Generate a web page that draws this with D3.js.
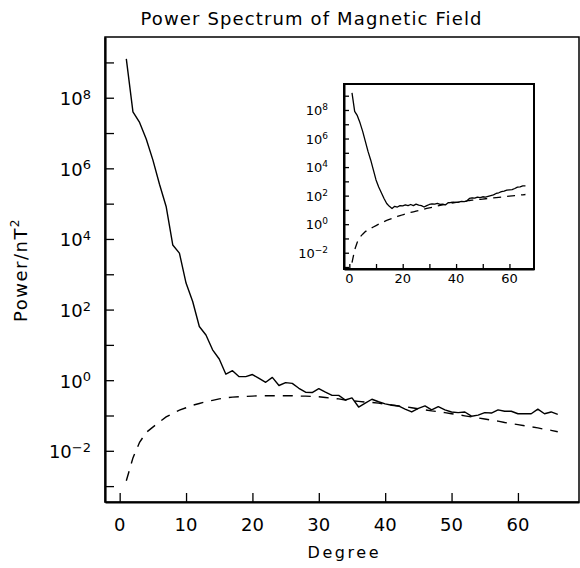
<!DOCTYPE html>
<html>
<head>
<meta charset="utf-8">
<script src="https://cdn.jsdelivr.net/npm/d3@7"></script>
<style>
  body { margin: 0; background: #fff; }
  svg text { font-family: "DejaVu Sans", sans-serif; fill: #000; }
</style>
</head>
<body>
<div id="canvas"></div>
<script>
// spherical harmonic degree n = 1..66
const degrees = d3.range(1, 67);

// main panel, log10(power / nT^2)
const mainObserved = [9.1, 7.6, 7.3, 6.83, 6.24, 5.55, 4.92, 3.83, 3.6, 2.75,
  2.23, 1.52, 1.28, 0.86, 0.6, 0.17, 0.27, 0.1, 0.1, 0.16,
  0.05, -0.06, 0.08, -0.15, -0.07, -0.09, -0.23, -0.34, -0.35, -0.24,
  -0.34, -0.43, -0.43, -0.56, -0.5, -0.76, -0.65, -0.54, -0.61, -0.67,
  -0.71, -0.73, -0.82, -0.9, -0.8, -0.73, -0.84, -0.75, -0.84, -0.9,
  -0.92, -0.9, -1.02, -0.99, -0.92, -0.93, -0.84, -0.88, -0.88, -0.95,
  -0.95, -0.95, -0.82, -0.95, -0.9, -0.97];
const mainModel = [-2.85, -2.2, -1.76, -1.48, -1.33, -1.18, -1.04, -0.94, -0.85, -0.78,
  -0.71, -0.66, -0.61, -0.57, -0.53, -0.5, -0.48, -0.47, -0.46, -0.45,
  -0.44, -0.44, -0.44, -0.44, -0.44, -0.44, -0.45, -0.45, -0.46, -0.47,
  -0.49, -0.51, -0.53, -0.56, -0.58, -0.6, -0.62, -0.63, -0.65, -0.68,
  -0.7, -0.73, -0.75, -0.78, -0.81, -0.84, -0.87, -0.89, -0.92, -0.95,
  -0.98, -1.01, -1.04, -1.07, -1.1, -1.13, -1.16, -1.2, -1.23, -1.26,
  -1.29, -1.32, -1.35, -1.39, -1.42, -1.46];

// inset panel, log10(power / nT^2)
const insetObserved = [9.2, 7.9, 7.6, 7.1, 6.5, 5.8, 5.1, 4.5, 3.8, 3.1,
  2.6, 2.2, 1.8, 1.45, 1.25, 1.1, 1.25, 1.2, 1.3, 1.28,
  1.35, 1.3, 1.38, 1.3, 1.4, 1.33, 1.3, 1.2, 1.3, 1.38,
  1.42, 1.4, 1.45, 1.38, 1.4, 1.35, 1.5, 1.52, 1.55, 1.52,
  1.55, 1.6, 1.58, 1.62, 1.8, 1.85, 1.82, 1.9, 1.86, 1.92,
  1.9, 1.95, 2.0, 2.05, 2.15, 2.2, 2.28, 2.32, 2.38, 2.4,
  2.42, 2.5, 2.6, 2.62, 2.68, 2.68];
const insetModel = [-2.7, -1.8, -1.25, -0.9, -0.7, -0.52, -0.4, -0.3, -0.2, -0.1,
  0.0, 0.1, 0.18, 0.26, 0.33, 0.4, 0.47, 0.54, 0.6, 0.66,
  0.71, 0.76, 0.82, 0.87, 0.92, 0.96, 1.01, 1.05, 1.1, 1.14,
  1.18, 1.23, 1.27, 1.31, 1.35, 1.38, 1.42, 1.46, 1.49, 1.52,
  1.55, 1.58, 1.61, 1.63, 1.66, 1.68, 1.7, 1.72, 1.74, 1.76,
  1.78, 1.8, 1.82, 1.84, 1.86, 1.88, 1.9, 1.92, 1.94, 1.96,
  1.98, 2.0, 2.02, 2.04, 2.06, 2.08];

// ticks
const xTicks = [0, 10, 20, 30, 40, 50, 60];
const xTicksInset = [0, 10, 20, 30, 40, 50, 60];
const xLabelsInset = [0, 20, 40, 60];
const yTickExp = [-3, -2, -1, 0, 1, 2, 3, 4, 5, 6, 7, 8, 9];
const yLabelExp = [-2, 0, 2, 4, 6, 8];

const w = 580, h = 568;
const svg = d3.select("#canvas").append("svg")
  .attr("width", w).attr("height", h);

function supText(g, exp, xPos, yPos, size, supSize, dy) {
  const t = g.append("text")
    .attr("x", xPos).attr("y", yPos)
    .attr("text-anchor", "end")
    .style("font-size", size + "px");
  t.append("tspan").text("10");
  t.append("tspan").attr("dy", dy).style("font-size", supSize + "px")
    .text(exp < 0 ? "\u2212" + (-exp) : exp);
}

function panel(opts) {
  const { box, xDom, yDom, observed, model } = opts;
  const x = d3.scaleLinear().domain(xDom).range([box.left, box.right]);
  const y = d3.scaleLog().domain(yDom.map(e => Math.pow(10, e))).range([box.bottom, box.top]);
  const g = svg.append("g");

  // frame
  g.append("rect")
    .attr("x", box.left).attr("y", box.top)
    .attr("width", box.right - box.left).attr("height", box.bottom - box.top)
    .attr("fill", "none").attr("stroke", "#000").attr("stroke-width", opts.frameW);

  const yAxis = g.append("g")
    .attr("transform", `translate(${box.left},0)`)
    .call(d3.axisLeft(y)
      .tickValues(yTickExp.map(e => Math.pow(10, e)))
      .tickSizeInner(-opts.tick).tickSizeOuter(0).tickFormat(""));
  yAxis.select(".domain").attr("stroke-width", opts.axisW);
  yAxis.selectAll(".tick line").attr("stroke-width", 1.3);

  const xAxis = g.append("g")
    .attr("transform", `translate(0,${box.bottom})`)
    .call(d3.axisBottom(x)
      .tickValues(opts.xTicks)
      .tickSizeInner(-opts.tick).tickSizeOuter(0).tickFormat(""));
  xAxis.select(".domain").attr("stroke-width", opts.axisW);
  xAxis.selectAll(".tick line").attr("stroke-width", 1.3);

  yLabelExp.forEach(e => {
    supText(g, e, opts.yLabelX, y(Math.pow(10, e)) + opts.yLabelDy,
      opts.font, opts.supFont, opts.supDy);
  });
  opts.xLabels.forEach(v => {
    g.append("text")
      .attr("x", x(v)).attr("y", opts.xLabelY)
      .attr("text-anchor", "middle")
      .style("font-size", opts.font + "px")
      .text(v);
  });

  const line = d3.line()
    .x((d, i) => x(degrees[i]))
    .y(d => y(Math.pow(10, d)));

  g.append("path").datum(model)
    .attr("d", line)
    .attr("fill", "none").attr("stroke", "#000")
    .attr("stroke-width", opts.lineW)
    .attr("stroke-dasharray", opts.dash);
  g.append("path").datum(observed)
    .attr("d", line)
    .attr("fill", "none").attr("stroke", "#000")
    .attr("stroke-width", opts.lineW)
    .attr("stroke-linejoin", "round");
}

// main chart
panel({
  box: { left: 105, right: 579, top: 37, bottom: 502 },
  xDom: [-2.21, 69.2], yDom: [-3.45, 9.72],
  observed: mainObserved, model: mainModel,
  xTicks: xTicks, xLabels: xTicks,
  tick: 9, frameW: 1.5, axisW: 2.2, lineW: 1.4, dash: "10,8",
  font: 18, supFont: 13, supDy: -6.5,
  yLabelX: 91, yLabelDy: 7.5, xLabelY: 531
});

// inset chart
panel({
  box: { left: 344, right: 534, top: 84, bottom: 269 },
  xDom: [-2, 69.2], yDom: [-3.14, 9.82],
  observed: insetObserved, model: insetModel,
  xTicks: xTicksInset, xLabels: xLabelsInset,
  tick: 5, frameW: 2, axisW: 2, lineW: 1.3, dash: "8,6",
  font: 13, supFont: 9, supDy: -5,
  yLabelX: 328, yLabelDy: 5, xLabelY: 283
});

// titles
svg.append("text")
  .attr("x", 311).attr("y", 25)
  .attr("text-anchor", "middle")
  .attr("textLength", 341).attr("lengthAdjust", "spacing")
  .style("font-size", "18px")
  .text("Power Spectrum of Magnetic Field");

svg.append("text")
  .attr("x", 343).attr("y", 558)
  .attr("text-anchor", "middle")
  .attr("textLength", 71).attr("lengthAdjust", "spacing")
  .style("font-size", "16px")
  .text("Degree");

const yl = svg.append("text")
  .attr("transform", "translate(27,270) rotate(-90)")
  .attr("text-anchor", "middle")
  .style("font-size", "18px")
  .style("letter-spacing", "1.5px");
yl.append("tspan").text("Power/nT");
yl.append("tspan").attr("dy", -8).style("font-size", "12px").text("2");
</script>
</body>
</html>
